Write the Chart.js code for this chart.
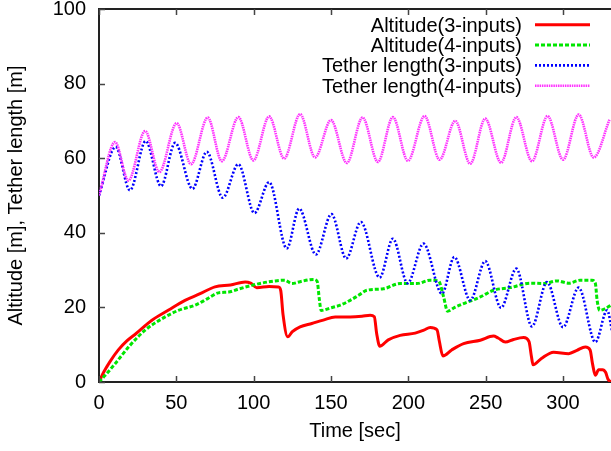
<!DOCTYPE html>
<html>
<head>
<meta charset="utf-8">
<script src="https://cdn.jsdelivr.net/npm/chart.js@4/dist/chart.umd.min.js"></script>
<style>
  html, body { margin: 0; padding: 0; background: #fff; }
  #wrap { width: 611px; height: 451px; position: relative; }
</style>
</head>
<body>
<div id="wrap"><canvas id="c" width="611" height="451"></canvas></div>
<script>
// ---- data ----
const seriesLabels = ['Altitude(3-inputs)', 'Altitude(4-inputs)', 'Tether length(3-inputs)', 'Tether length(4-inputs)'];
const xTickValues = [0, 50, 100, 150, 200, 250, 300];
const yTickValues = [0, 20, 40, 60, 80, 100];

const alt3T = [0, 3, 7, 12.5, 18, 24, 34, 45, 55.6, 65, 75, 85, 94.5, 98, 102, 110, 116, 117.5, 119, 122, 125, 130, 137.6, 145, 152.7, 162.4, 170, 175.3, 178, 179.5, 181.5, 187, 194.7, 204.4, 210, 214.1, 218.5, 220, 222.3, 228, 235.7, 246.5, 255, 258, 262.7, 268, 274.5, 278, 279.5, 280.6, 286, 293.9, 303.6, 309, 314.4, 317.5, 319, 320.9, 323, 325.5, 327.5, 329, 331];
const alt3V = [0, 2.6, 5.4, 8.6, 11.0, 13.0, 16.5, 19.3, 21.9, 23.6, 25.5, 26.0, 26.8, 26.5, 25.3, 25.6, 25.5, 24.5, 18, 12.1, 13.5, 14.8, 15.7, 16.6, 17.4, 17.4, 17.6, 17.9, 17.5, 13, 9.6, 11.3, 12.5, 13.1, 13.9, 14.6, 14.0, 11, 7.0, 8.6, 10.3, 11.2, 12.3, 11.8, 10.7, 11.4, 11.9, 10.8, 7, 4.6, 6.3, 8.0, 7.6, 8.5, 9.4, 8.6, 5, 1.8, 3.3, 3.3, 2.6, 0.8, 0];

const alt4T = [0, 4, 10.4, 20, 29.8, 40, 51.3, 62.1, 70, 77.2, 83.7, 90, 98.8, 105, 113.9, 120, 124.7, 130, 138.6, 141, 142.5, 143.6, 150, 156, 162.4, 168, 173.2, 183.9, 194.7, 205.5, 214.1, 219.5, 222.8, 225.3, 230, 235.7, 246.5, 255.1, 265.9, 278.8, 287.5, 296.1, 303.6, 311.2, 318.7, 320.9, 322, 323.7, 327.4, 331];
const alt4V = [0, 1.8, 4.9, 9.8, 13.9, 16.8, 19.2, 20.6, 22.3, 23.9, 24.1, 24.9, 25.9, 26.5, 27.1, 27.3, 26.4, 26.9, 27.5, 27.0, 22, 19.2, 19.9, 20.6, 21.9, 23.3, 24.6, 25.0, 26.4, 26.4, 27.3, 27.1, 22.8, 19.0, 20.0, 21.0, 22.8, 24.6, 25.3, 26.5, 26.4, 27.1, 26.5, 27.3, 27.3, 26.4, 22, 19.2, 19.7, 20.6];

const teth3T = [0, 10.8, 20, 30.2, 40.1, 49.2, 60.4, 69.7, 80, 90.1, 100.5, 110, 121.4, 129.4, 140.2, 150.3, 159.8, 169.3, 181.4, 190, 199.5, 209.8, 221.7, 229.7, 240, 249.7, 259.9, 269.8, 279.9, 289.6, 300, 310.1, 320.9, 328.5, 332];
const teth3V = [50, 63.0, 51.4, 64.6, 52.5, 64.1, 51.8, 61.7, 49.4, 58.4, 45.3, 53.6, 35.8, 46.5, 34.2, 45.0, 33.1, 42.9, 28.0, 38.4, 26.5, 37.1, 23.7, 33.5, 21.9, 32.4, 19.9, 30.4, 14.9, 26.8, 14.7, 25.3, 10.7, 19.2, 13];

const teth4T = [0, 10.4, 19, 29.8, 39, 50.2, 59.5, 70.3, 79.4, 90.1, 99.8, 110, 119.7, 130, 139.7, 150, 160.2, 170.4, 180.3, 190, 199.7, 210.5, 220.2, 230.3, 240, 249.7, 259.9, 269.8, 279.9, 290, 300, 310.1, 319.8, 330];
const teth4V = [50, 64.3, 54, 67.3, 56.3, 69.4, 58.4, 70.9, 59.2, 71.0, 59.4, 71.2, 59.9, 71.8, 60.2, 70.2, 58.7, 70.9, 59.0, 71.0, 59.3, 71.3, 59.6, 70.0, 58.5, 70.6, 58.8, 71.0, 59.2, 71.3, 59.6, 71.7, 60.2, 70.3];

// ---- helpers ----
const pts = (T, V) => T.map((t, i) => ({ x: t, y: V[i] }));
const FONT = '"Liberation Sans", Arial, Helvetica, sans-serif';

const styles = [
  { color: '#ff0000', width: 3, dash: [] },
  { color: '#00e600', width: 3, dash: [4, 2] },
  { color: '#0000ff', width: 2.6, dash: [2, 2] },
  { color: '#ff33ff', width: 2.6, dash: [1.5, 0.8] }
];

const framePlugin = {
  id: 'frame',
  afterDraw(chart) {
    const { ctx, chartArea: a, scales } = chart;
    const x = scales.x, y = scales.y;
    ctx.save();
    // top border
    ctx.strokeStyle = '#222';
    ctx.lineWidth = 2;
    ctx.beginPath();
    ctx.moveTo(a.left - 1, a.top);
    ctx.lineTo(a.right, a.top);
    ctx.stroke();
    // inward ticks
    ctx.strokeStyle = '#444';
    ctx.lineWidth = 1.5;
    ctx.beginPath();
    x.ticks.forEach(t => {
      const px = Math.round(x.getPixelForValue(t.value)) + 0.5;
      ctx.moveTo(px, a.bottom); ctx.lineTo(px, a.bottom - 6);
      ctx.moveTo(px, a.top); ctx.lineTo(px, a.top + 6);
    });
    y.ticks.forEach(t => {
      const py = Math.round(y.getPixelForValue(t.value)) + 0.5;
      ctx.moveTo(a.left, py); ctx.lineTo(a.left + 6, py);
    });
    ctx.stroke();
    // legend (gnuplot style: right-aligned text, sample to the right)
    ctx.font = '20px ' + FONT;
    ctx.textAlign = 'right';
    ctx.textBaseline = 'alphabetic';
    chart.data.datasets.forEach((ds, i) => {
      const base = 31.7 + i * 20.35;
      ctx.fillStyle = '#000';
      ctx.fillText(ds.label, 522, base);
      const st = styles[i];
      ctx.strokeStyle = st.color;
      ctx.lineWidth = st.width;
      ctx.setLineDash(st.dash);
      ctx.beginPath();
      ctx.moveTo(535, base - 7);
      ctx.lineTo(590, base - 7);
      ctx.stroke();
      ctx.setLineDash([]);
    });
    ctx.restore();
  }
};

const seriesData = [pts(alt3T, alt3V), pts(alt4T, alt4V), pts(teth3T, teth3V), pts(teth4T, teth4V)];

const datasets = seriesData.map((d, i) => ({
  label: seriesLabels[i],
  data: d,
  borderColor: styles[i].color,
  borderWidth: styles[i].width,
  borderDash: styles[i].dash,
  pointRadius: 0,
  fill: false,
  cubicInterpolationMode: 'monotone',
  order: 4 - i
}));

new Chart(document.getElementById('c'), {
  type: 'line',
  data: { datasets },
  options: {
    responsive: false,
    animation: false,
    devicePixelRatio: 1,
    layout: { padding: { top: 9, right: 0, bottom: 0, left: 0 } },
    plugins: { legend: { display: false }, tooltip: { enabled: false } },
    scales: {
      x: {
        type: 'linear',
        min: 0, max: 331,
        afterFit: s => { s.height = 69; s.paddingLeft = 0; s.paddingRight = 0; },
        afterBuildTicks: s => { s.ticks = xTickValues.map(v => ({ value: v })); },
        ticks: { autoSkip: false, maxRotation: 0, padding: 9, color: '#000', font: { family: FONT, size: 20 } },
        grid: { display: true, drawOnChartArea: false, drawTicks: false },
        border: { display: true, color: '#222', width: 2 },
        title: { display: true, text: 'Time [sec]', color: '#000', font: { family: FONT, size: 20 }, padding: { top: 0, bottom: 8 } }
      },
      y: {
        type: 'linear',
        min: 0, max: 100,
        afterFit: s => { s.width = 99; s.paddingTop = 0; s.paddingBottom = 0; },
        afterBuildTicks: s => { s.ticks = yTickValues.map(v => ({ value: v })); },
        ticks: { padding: 13, color: '#000', font: { family: FONT, size: 20 } },
        grid: { display: true, drawOnChartArea: false, drawTicks: false },
        border: { display: true, color: '#222', width: 2 },
        title: { display: true, text: 'Altitude [m], Tether length [m]', color: '#000', font: { family: FONT, size: 20 }, padding: { top: 4, bottom: 0 } }
      }
    }
  },
  plugins: [framePlugin]
});
</script>
</body>
</html>
